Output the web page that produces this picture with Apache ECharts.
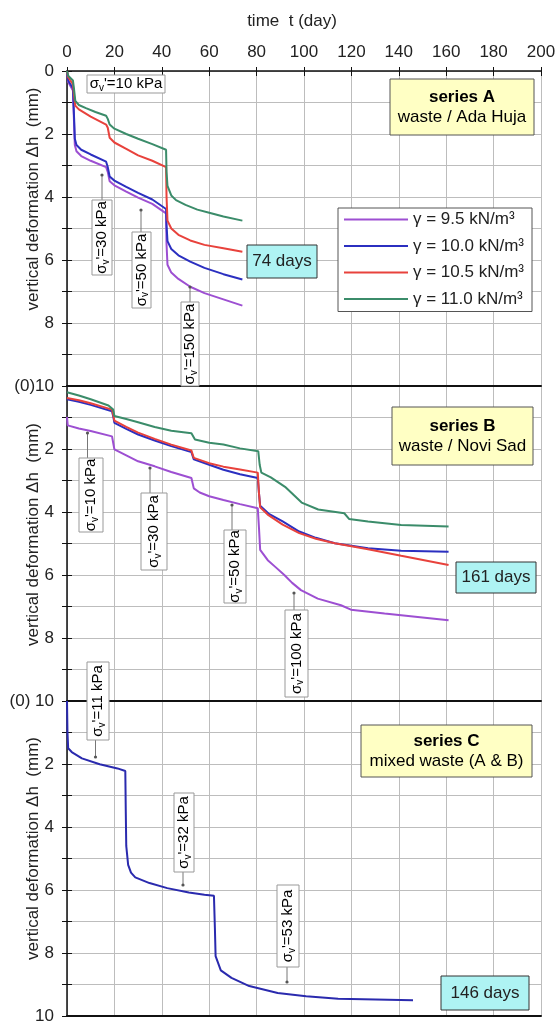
<!DOCTYPE html>
<html><head><meta charset="utf-8">
<script src="https://cdn.jsdelivr.net/npm/echarts@6/dist/echarts.min.js"></script>
<style>html,body{margin:0;padding:0;background:#fff}#c{width:556px;height:1022px}</style>
</head><body><div id="c"></div>
<script>
// ---------------- DATA ----------------
const legendNames = ['γ = 9.5 kN/m³', 'γ = 10.0 kN/m³', 'γ = 10.5 kN/m³', 'γ = 11.0 kN/m³'];
const timeTicks = [0, 20, 40, 60, 80, 100, 120, 140, 160, 180, 200];

// Series A (waste / Ada Huja) [t (day), Δh (mm)]
const A_g95 = [[0,0],[0.5,0.35],[2.5,0.62],[3,1.7],[3.3,2.35],[4,2.55],[6,2.7],[10,2.85],[16.5,3.05],[17.2,3.2],[18,3.5],[20,3.63],[25,3.83],[30,4.02],[36,4.22],[41.8,4.52],[42,5.5],[42.4,6.15],[44,6.4],[47,6.6],[52,6.85],[58,7.05],[66,7.25],[74,7.45]];
const A_g100 = [[0,0],[0.5,0.3],[2.5,0.55],[3,1.5],[3.3,2.15],[4,2.35],[6,2.5],[10,2.65],[16.5,2.88],[17.2,3.05],[18,3.35],[20,3.48],[25,3.68],[30,3.87],[36,4.08],[41.8,4.38],[42,4.9],[42.4,5.4],[44,5.65],[47,5.85],[52,6.05],[58,6.25],[66,6.45],[74,6.62]];
const A_g105 = [[0,0],[0.5,0.2],[2.5,0.42],[3,0.8],[3.5,1.1],[5,1.22],[10,1.45],[16.5,1.7],[17.2,1.8],[18,2.12],[20,2.27],[25,2.47],[30,2.68],[36,2.85],[41.8,3.05],[42,4.0],[42.4,4.75],[44,5.0],[47,5.2],[52,5.38],[58,5.52],[66,5.63],[74,5.74]];
const A_g110 = [[0,0],[0.5,0.15],[2.5,0.3],[3,0.6],[3.5,0.95],[5,1.08],[8,1.18],[12,1.3],[16.5,1.42],[17.2,1.52],[18,1.7],[20,1.83],[25,2.0],[30,2.15],[36,2.32],[41.8,2.5],[42,3.2],[42.4,3.65],[44,3.95],[46,4.1],[50,4.25],[55,4.4],[60,4.5],[66,4.62],[74,4.75]];

// Series B (waste / Novi Sad)
const B_g95 = [[0,0.98],[0.3,1.25],[5,1.35],[10,1.43],[19,1.6],[19.6,1.85],[20,2.01],[25,2.2],[30,2.39],[37,2.55],[44,2.73],[52.5,2.92],[53.5,3.25],[56,3.38],[60,3.5],[66,3.62],[73,3.75],[80.5,3.88],[81,4.5],[81.5,5.2],[84.7,5.53],[88,5.75],[91.7,6.0],[95,6.25],[98.7,6.48],[105.8,6.75],[115.6,6.96],[119.8,7.1],[134,7.22],[161,7.44]];
const B_g100 = [[0,0.42],[5,0.5],[10,0.6],[19,0.8],[19.6,1.0],[20,1.17],[25,1.36],[30,1.54],[37,1.73],[44,1.91],[52.5,2.1],[53.5,2.33],[60,2.5],[66,2.66],[73,2.8],[80.5,2.92],[81,3.4],[81.5,3.8],[85,4.05],[91,4.3],[98,4.62],[105,4.82],[113,4.99],[127,5.15],[141,5.23],[161,5.26]];
const B_g105 = [[0,0.38],[5,0.45],[10,0.55],[19,0.75],[19.6,0.95],[20,1.1],[25,1.3],[30,1.48],[37,1.68],[44,1.86],[52.5,2.05],[53.5,2.28],[60,2.45],[66,2.56],[73,2.65],[80.5,2.75],[81,3.4],[81.5,3.85],[85,4.1],[91,4.4],[98,4.67],[105,4.85],[113,4.99],[127,5.18],[141,5.39],[161,5.68]];
const B_g110 = [[0,0.2],[5,0.3],[10,0.42],[17.5,0.62],[19.5,0.75],[20,0.95],[25,1.05],[30,1.15],[37,1.3],[44,1.42],[52.5,1.5],[54,1.7],[60,1.8],[66,1.86],[73,1.98],[80.7,2.07],[81.3,2.5],[82,2.75],[86,2.9],[92,3.2],[99,3.7],[106,3.92],[117,4.04],[119,4.22],[127,4.3],[141,4.41],[161,4.46]];

// Series C (mixed waste A & B)
const C_mixed = [[0,0],[0.2,1.0],[0.5,1.5],[2,1.62],[6.3,1.82],[13.8,2.01],[21.3,2.14],[24.6,2.22],[24.8,3.5],[25,4.6],[25.8,5.2],[27,5.45],[28.8,5.6],[34.8,5.78],[42.3,5.94],[51.4,6.08],[58,6.15],[62,6.18],[62.4,7.2],[62.7,8.1],[64.9,8.55],[69.4,8.79],[76.9,9.05],[88.9,9.27],[100.9,9.37],[114.4,9.45],[146,9.5]];

// ---------------- STYLE / LAYOUT ----------------
const FONT = 'Liberation Sans, Arial, sans-serif';
const colors = ['#9d4fd2', '#2b2fc0', '#e8423c', '#3b8c6a'];
const cColor = '#2a2aae';
const gridCol = '#bdbdbd';
const G = [{top:71, shift:59}, {top:386, shift:18}, {top:701, shift:20}];

const chart = echarts.init(document.getElementById('c'), null, {renderer:'canvas'});

function yAx(i, fmt) {
  return {
    type:'value', gridIndex:i, inverse:true, min:0, max:10, interval:1,
    axisLine:{show:true, lineStyle:{color:'#111', width:1.5}},
    axisTick:{show:true, length:5, lineStyle:{color:'#111'}},
    axisLabel:{fontSize:17, color:'#222', fontFamily:FONT, margin:13, formatter:fmt},
    splitLine:{show:true, lineStyle:{color:gridCol, width:1}},
    name:'vertical deformation Δh  (mm)', nameLocation:'middle', nameGap:25, nameRotate:90,
    nameMoveOverlap:false,
    nameTextStyle:{fontSize:17, color:'#222', fontFamily:FONT, padding:[0,0,0,G[i].shift]}
  };
}
function yTickIn(i) {
  return {type:'value', gridIndex:i, inverse:true, min:0, max:10, interval:1, position:'left',
    axisLine:{show:false}, axisTick:{show:true, inside:true, length:5, lineStyle:{color:'#111'}},
    axisLabel:{show:false}, splitLine:{show:false}};
}
function xAx(i, pos, extra) {
  return Object.assign({
    type:'value', gridIndex:i, position:pos, min:0, max:200, interval:20,
    axisLine:{show:true, onZero:false, lineStyle:{color:'#111', width:2}},
    axisTick:{show:false}, axisLabel:{show:false},
    splitLine:{show:true, lineStyle:{color:gridCol, width:1}}
  }, extra || {});
}

const series = [];
[A_g95, A_g100, A_g105, A_g110].forEach((d, k) => series.push({
  name:legendNames[k], type:'line', xAxisIndex:0, yAxisIndex:0, data:d,
  showSymbol:false, symbol:'none', lineStyle:{width:2, color:colors[k]}, itemStyle:{color:colors[k]}, z:3
}));
[B_g95, B_g100, B_g105, B_g110].forEach((d, k) => series.push({
  name:legendNames[k], type:'line', xAxisIndex:1, yAxisIndex:1, data:d,
  showSymbol:false, symbol:'none', lineStyle:{width:2, color:colors[k]}, itemStyle:{color:colors[k]}, z:3
}));
series.push({name:'mixed waste', type:'line', xAxisIndex:2, yAxisIndex:2, data:C_mixed,
  showSymbol:false, symbol:'none', lineStyle:{width:2, color:cColor}, z:3});

// annotation helpers
const sigRich = {a:{fontSize:15, fontFamily:FONT, color:'#333', lineHeight:18}, s:{fontSize:10, fontFamily:FONT, color:'#333', lineHeight:18, verticalAlign:'bottom'}};
function sig(val) { return '{a|σ}{s|v}{a|\'=' + val + ' kPa}'; }
function annoBox(x, y, w, h, val, rotated) {
  return [
    {type:'rect', shape:{x:x, y:y, width:w, height:h}, style:{fill:'#fff', stroke:'#999', lineWidth:1}, z:100},
    {type:'text', x:x + w/2, y:y + h/2, rotation: rotated ? Math.PI/2 : 0,
     style:{text:sig(val), rich:sigRich, align:'center', verticalAlign:'middle'}, z:101}
  ];
}
function arrow(x, y1, y2) {
  return [
    {type:'line', shape:{x1:x, y1:y1, x2:x, y2:y2}, style:{stroke:'#777', lineWidth:1}, z:99},
    {type:'circle', shape:{cx:x, cy:y2, r:1.6}, style:{fill:'#555'}, z:99}
  ];
}
function titleBox(x, y, w, h, l1, l2) {
  return [
    {type:'rect', shape:{x:x, y:y, width:w, height:h}, style:{fill:'#ffffc4', stroke:'#555', lineWidth:1}, z:100},
    {type:'text', x:x + w/2, y:y + h/2, style:{text:'{b|' + l1 + '}\n{n|' + l2 + '}', align:'center', verticalAlign:'middle',
      rich:{b:{fontSize:17, fontWeight:'bold', fontFamily:FONT, color:'#222', lineHeight:20}, n:{fontSize:17, fontFamily:FONT, color:'#222', lineHeight:20}}}, z:101}
  ];
}
function daysBox(x, y, w, h, label) {
  return [
    {type:'rect', shape:{x:x, y:y, width:w, height:h}, style:{fill:'#aef3f3', stroke:'#333', lineWidth:1}, z:100},
    {type:'text', x:x + w/2, y:y + h/2, style:{text:label, fontSize:17, fontFamily:FONT, fill:'#222', align:'center', verticalAlign:'middle'}, z:101}
  ];
}

const graphics = [].concat(
  annoBox(87, 75, 78, 18, 10, false),
  arrow(102, 200, 175), annoBox(92, 200, 20, 75, 30, true),
  arrow(141, 232, 210), annoBox(132, 232, 19, 76, 50, true),
  arrow(190, 302, 287), annoBox(181, 302, 18, 84, 150, true),
  titleBox(390, 79, 144, 56, 'series A', 'waste / Ada Huja'),
  daysBox(247, 245, 70, 33, '74 days'),
  arrow(87.5, 458, 433), annoBox(79, 458, 24, 74, 10, true),
  arrow(150, 493, 468), annoBox(141, 493, 26, 77, 30, true),
  arrow(232, 530, 505), annoBox(224, 530, 22, 73, 50, true),
  arrow(294, 610, 593), annoBox(285, 610, 23, 87, 100, true),
  titleBox(392, 407, 141, 58, 'series B', 'waste / Novi Sad'),
  daysBox(456, 562, 80, 31, '161 days'),
  arrow(95.5, 740, 757), annoBox(87, 662, 22, 78, 11, true),
  titleBox(361, 725, 171, 52, 'series C', 'mixed waste (A & B)'),
  arrow(183, 872, 885), annoBox(174, 793, 20, 79, 32, true),
  arrow(287, 967, 982), annoBox(277, 885, 22, 82, 53, true),
  daysBox(441, 976, 88, 34, '146 days')
);

const option = {
  animation:false,
  backgroundColor:'#fff',
  textStyle:{fontFamily:FONT},
  grid: G.map(g => ({left:67, right:15, top:g.top, height:315, containLabel:false, outerBoundsMode:'none'})),
  xAxis: [
    xAx(0, 'top', {
      axisLine:{show:true, onZero:false, lineStyle:{color:'#111', width:1.5}},
      axisTick:{show:true, inside:true, length:5, lineStyle:{color:'#111'}},
      axisLabel:{show:true, fontSize:17, color:'#222', fontFamily:FONT, margin:10,
        formatter: v => timeTicks.indexOf(v) >= 0 ? String(v) : ''},
      name:'time  t (day)', nameLocation:'middle', nameGap:41, nameMoveOverlap:false,
      nameTextStyle:{fontSize:17, color:'#222', fontFamily:FONT, padding:[0,24,0,0]}
    }),
    xAx(1, 'top'),
    xAx(2, 'top'),
    xAx(2, 'bottom', {splitLine:{show:false}}),
    xAx(0, 'top', {axisLine:{show:false}, splitLine:{show:false},
      axisTick:{show:true, inside:false, length:4, lineStyle:{color:'#111'}}})
  ],
  yAxis: [
    yAx(0, v => v === 10 ? '(0)10' : (v % 2 === 0 ? String(v) : '')),
    yAx(1, v => v === 10 ? '(0) 10' : (v % 2 === 0 && v > 0 ? String(v) : '')),
    yAx(2, v => (v % 2 === 0 && v > 0 ? String(v) : '')),
    yTickIn(0), yTickIn(1), yTickIn(2)
  ],
  legend: {
    data: legendNames, orient:'vertical', left:338, top:208,
    backgroundColor:'#fff', borderColor:'#555', borderWidth:1, padding:[3,8,4,6],
    icon:'rect', itemWidth:64, itemHeight:2, itemGap:9.5,
    textStyle:{fontSize:17, color:'#222', fontFamily:FONT}, z:50
  },
  series: series,
  graphic: graphics
};
chart.setOption(option);
</script></body></html>
